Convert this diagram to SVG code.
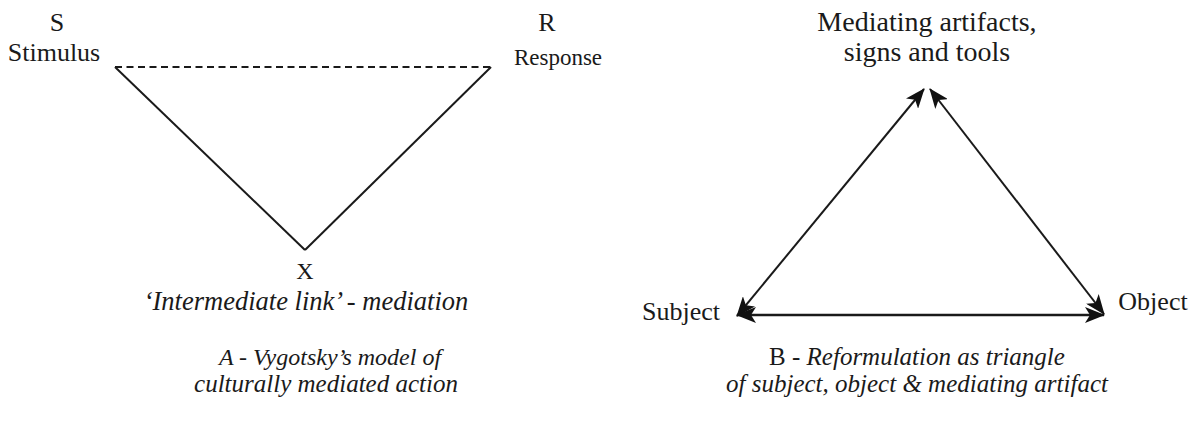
<svg xmlns="http://www.w3.org/2000/svg" width="1195" height="434" viewBox="0 0 1195 434">
  <style>
    .t { font-family: "Liberation Serif", "Times New Roman", serif; fill: #1a1a1a; text-anchor: middle; }
    .it { font-style: italic; }
    .ln { stroke: #1a1a1a; stroke-width: 2; fill: none; }
    .dash { stroke-dasharray: 7 4.5; }
    .arr { marker-start: url(#ah); marker-end: url(#ah); }
  </style>
  <defs>
    <marker id="ah" markerUnits="userSpaceOnUse" markerWidth="20" markerHeight="16" viewBox="0 0 20 16" refX="19" refY="8" orient="auto-start-reverse">
      <path d="M0,0 L20,8 L0,16 L5,8 Z" fill="#111"/>
    </marker>
  </defs>
  <rect width="1195" height="434" fill="#ffffff"/>

  <g id="connectors">
    <line class="ln dash" x1="115" y1="67" x2="491" y2="67"/>
    <line class="ln" x1="115" y1="67" x2="305" y2="250"/>
    <line class="ln" x1="491" y1="67" x2="305" y2="250"/>
    <line class="ln arr" x1="737" y1="316" x2="924" y2="89"/>
    <line class="ln arr" x1="930" y1="89" x2="1104" y2="314"/>
    <line class="ln arr" x1="737" y1="315" x2="1104" y2="315" style="stroke-width:2.6"/>
  </g>

  <g id="node-stimulus">
    <text class="t" x="57" y="31" font-size="26">S</text>
    <text class="t" x="54" y="61" font-size="26">Stimulus</text>
  </g>
  <g id="node-response">
    <text class="t" x="547" y="31" font-size="26">R</text>
    <text class="t" x="558" y="65" font-size="23">Response</text>
  </g>
  <g id="node-mediation">
    <text class="t" x="305" y="279" font-size="24">X</text>
    <text class="t it" x="306" y="310" font-size="26.5">‘Intermediate link’ - mediation</text>
  </g>
  <g id="caption-a">
    <text class="t it" x="330" y="365" font-size="24">A - Vygotsky’s model of</text>
    <text class="t it" x="326" y="392" font-size="25">culturally mediated action</text>
  </g>

  <g id="node-artifacts">
    <text class="t" x="927" y="31" font-size="28">Mediating artifacts,</text>
    <text class="t" x="927" y="61" font-size="28">signs and tools</text>
  </g>
  <g id="node-subject">
    <text class="t" x="681" y="320" font-size="26">Subject</text>
  </g>
  <g id="node-object">
    <text class="t" x="1153" y="310" font-size="26">Object</text>
  </g>
  <g id="caption-b">
    <text class="t" x="917" y="365" font-size="25">B - <tspan class="it">Reformulation as triangle</tspan></text>
    <text class="t it" x="917" y="392" font-size="25">of subject, object &amp; mediating artifact</text>
  </g>
</svg>
